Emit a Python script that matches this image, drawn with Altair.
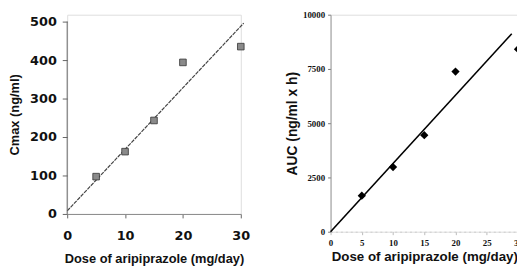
import altair as alt
import pandas as pd

# data
doses = [5, 10, 15, 20, 30]
cmax = [97, 162, 243, 394, 435]
auc = [1660, 2980, 4450, 7380, 8410]

cmax_fit_x = [0, 30.5]
cmax_fit_y = [8, 496]
auc_fit_x = [0, 29.0]
auc_fit_y = [0, 9120]

left_x_ticks = [0, 10, 20, 30]
left_y_ticks = [0, 100, 200, 300, 400, 500]
right_x_ticks = [0, 5, 10, 15, 20, 25, 30]
right_y_ticks = [0, 2500, 5000, 7500, 10000]

pts_l = pd.DataFrame({"dose": doses, "v": cmax})
fit_l = pd.DataFrame({"dose": cmax_fit_x, "v": cmax_fit_y})
pts_r = pd.DataFrame({"dose": doses, "v": auc})
fit_r = pd.DataFrame({"dose": auc_fit_x, "v": auc_fit_y})

XT = "Dose of aripiprazole (mg/day)"

xl = alt.X("dose:Q", scale=alt.Scale(domain=[0, 30], nice=False),
           axis=alt.Axis(values=left_x_ticks, title=XT, grid=False, format="d",
                         labelFont="DejaVu Sans", labelFontWeight="bold", labelFontSize=13,
                         labelColor="#111", labelPadding=12, tickSize=4, tickColor="#666",
                         domainColor="#888", titleFont="Liberation Sans", titleFontSize=13,
                         titleFontWeight="bold", titleColor="#111", titlePadding=10,
                         labelFlush=False))
yl = alt.Y("v:Q", scale=alt.Scale(domain=[0, 518], nice=False),
           axis=alt.Axis(values=left_y_ticks, title="Cmax (ng/ml)", grid=False, format="d",
                         domain=False,
                         labelFont="DejaVu Sans", labelFontWeight="bold", labelFontSize=13,
                         labelColor="#111", labelPadding=6, tickSize=5, tickColor="#666",
                         titleFont="Liberation Sans", titleFontSize=13,
                         titleFontWeight="bold", titleColor="#111", titlePadding=8,
                         labelFlush=False))

left_axis = alt.Chart().mark_rule(color="#666", strokeWidth=1).encode(
    x=alt.datum(0, scale=alt.Scale(domain=[0, 30], nice=False)),
    y=alt.datum(0), y2=alt.datum(left_y_ticks[-1]))
left_line = alt.Chart(fit_l).mark_line(color="#444", strokeWidth=1.2, strokeDash=[4, 1]).encode(x=xl, y=yl)
left_pts = alt.Chart(pts_l).mark_point(shape="square", filled=True, size=45, color="#8a8a8a",
                                       stroke="#333", strokeWidth=0.8, opacity=1).encode(x=xl, y=yl)
left = alt.layer(left_line, left_pts, left_axis).properties(width=176, height=202)

xr = alt.X("dose:Q", scale=alt.Scale(domain=[0, 30], nice=False),
           axis=alt.Axis(values=right_x_ticks, title=XT, grid=False, format="d",
                         labelFont="Liberation Serif", labelFontWeight="bold", labelFontSize=9,
                         labelColor="#111", labelPadding=4, tickSize=3, tickColor="#bbb",
                         domainColor="#ccc", domainDash=[2, 3], titleFont="Liberation Sans",
                         titleFontSize=13.5, titleFontWeight="bold", titleColor="#111",
                         titlePadding=2, labelFlush=False))
yr = alt.Y("v:Q", scale=alt.Scale(domain=[0, 10000], nice=False),
           axis=alt.Axis(values=right_y_ticks, title="AUC (ng/ml x h)", grid=False, format="d",
                         labelFont="Liberation Serif", labelFontWeight="bold", labelFontSize=9,
                         labelColor="#111", labelPadding=3, tickSize=3, tickColor="#777",
                         domainColor="#999", titleFont="Liberation Sans", titleFontSize=14,
                         titleFontWeight="bold", titleColor="#111", titlePadding=3,
                         labelFlush=False))

right_line = alt.Chart(fit_r).mark_line(color="#000", strokeWidth=1.6).encode(x=xr, y=yr)
right_pts = alt.Chart(pts_r).mark_point(shape="diamond", filled=True, size=70, color="#000",
                                        opacity=1).encode(x=xr, y=yr)
right = alt.layer(right_line, right_pts).properties(width=190, height=220)

chart = alt.hconcat(left, right, spacing=35).properties(
    padding={"left": 0, "top": 0, "right": -6, "bottom": 0}
).configure_view(stroke=None).configure(background="white")

chart.save("out.html", embed_options={"renderer": "svg", "actions": False})
